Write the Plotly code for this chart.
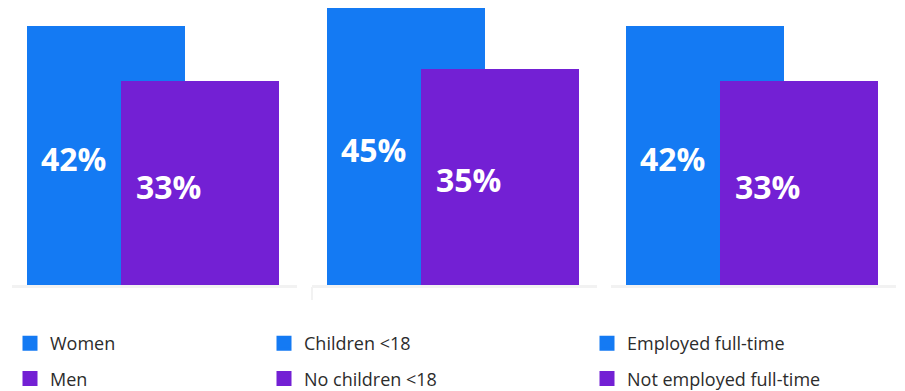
import plotly.graph_objects as go

# Survey shares (%) for three demographic splits
first_labels = ["Women", "Children <18", "Employed full-time"]
second_labels = ["Men", "No children <18", "Not employed full-time"]
first_values = [42, 45, 42]
second_values = [33, 35, 33]

BLUE = "#147AF3"
PURPLE = "#7320D4"
W, H = 905, 391

panel_left_px = [12, 312, 611]
legend_text_px = [50, 304, 627]   # where each legend's labels start
panel_width_px = 285
bar_px = 158
first_center_px = 94          # blue bar centre, from panel's left edge
offset = 0.6                  # purple bar shift, in bar widths
baseline_px = 285
px_per_pct = 6.12
edge = 3                      # bar outline width (also sizes legend swatches)
bar_w = (bar_px - edge) / bar_px

fig = go.Figure()
annotations = []

for i in range(3):
    ax = "" if i == 0 else str(i + 1)
    leg = "legend" if i == 0 else f"legend{i + 1}"
    xa, ya = f"x{ax}", f"y{ax}"

    fig.add_trace(go.Bar(
        x=[0], y=[first_values[i]], width=[bar_w], name=first_labels[i],
        marker=dict(color=BLUE, line=dict(width=edge, color=BLUE)),
        xaxis=xa, yaxis=ya, legend=leg, legendgroup=f"a{i}",
        hoverinfo="skip",
    ))
    fig.add_trace(go.Bar(
        x=[offset], y=[second_values[i]], width=[bar_w], name=second_labels[i],
        marker=dict(color=PURPLE, line=dict(width=edge, color=PURPLE)),
        xaxis=xa, yaxis=ya, legend=leg, legendgroup=f"b{i}",
        hoverinfo="skip",
    ))

    for xpos, val in ((0, first_values[i]), (offset, second_values[i])):
        annotations.append(dict(
            x=xpos - 0.5, y=val / 2, xref=xa, yref=ya,
            text=f"{val}%", showarrow=False, xanchor="left", yanchor="middle",
            xshift=12, yshift=-2,
            font=dict(family="Open Sans", size=32, color="white", weight=700),
        ))

    left = panel_left_px[i]
    right = left + panel_width_px
    x_lo = (0 - first_center_px) / bar_px
    x_hi = (panel_width_px - first_center_px) / bar_px
    fig.layout[f"xaxis{ax}"] = dict(
        domain=[left / W, right / W], range=[x_lo, x_hi],
        showgrid=False, zeroline=False, showticklabels=False, ticks="",
        showline=True, linecolor="#F2F2F2", linewidth=3, fixedrange=True,
        anchor=ya,
    )
    fig.layout[f"yaxis{ax}"] = dict(
        domain=[(H - baseline_px) / H, 1], range=[0, baseline_px / px_per_pct],
        showgrid=False, zeroline=False, showticklabels=False, ticks="",
        showline=False, fixedrange=True, anchor=xa,
    )
    fig.layout[leg] = dict(
        x=(legend_text_px[i] - 40) / W, y=(H - 325) / H,
        xanchor="left", yanchor="top", orientation="v",
        traceorder="grouped", tracegroupgap=9,
        font=dict(family="Open Sans", size=18, color="#2C2C2C"),
        bgcolor="rgba(0,0,0,0)", borderwidth=0,
    )

# small frame tick below the middle panel's baseline
fig.add_shape(type="line", xref="paper", yref="paper",
              x0=312 / W, x1=312 / W, y0=(H - 287) / H, y1=(H - 300) / H,
              line=dict(color="#F2F2F2", width=2))

fig.update_layout(
    width=W, height=H, barmode="overlay", bargap=0,
    margin=dict(l=0, r=0, t=0, b=0, autoexpand=False),
    paper_bgcolor="white", plot_bgcolor="white",
    showlegend=True, annotations=annotations,
)

fig.write_html("out.html")
